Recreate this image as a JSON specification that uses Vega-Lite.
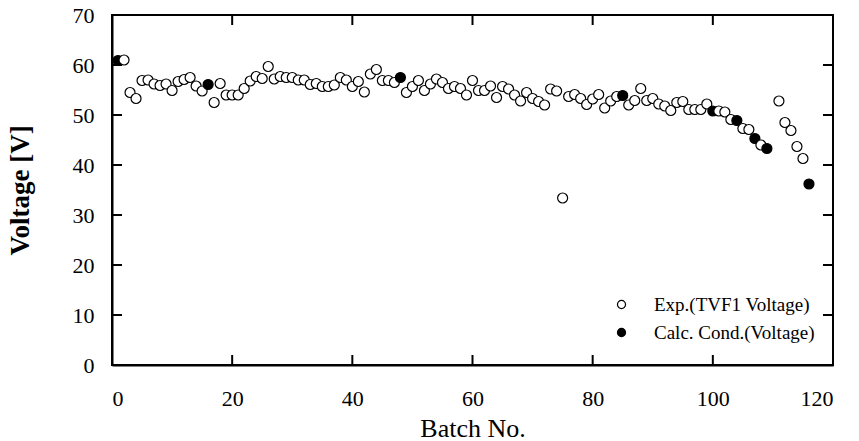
{
  "$schema": "https://vega.github.io/schema/vega-lite/v6.json",
  "autosize": "none",
  "width": 721,
  "height": 350,
  "padding": {"left": 112, "top": 15, "right": 26, "bottom": 76},
  "background": "white",
  "config": {
    "view": {"stroke": "black", "strokeWidth": 2},
    "font": "Liberation Serif",
    "axis": {"grid": false, "domainColor": "black", "domainWidth": 2, "labelColor": "black", "titleColor": "black", "labelFont": "Liberation Serif", "titleFont": "Liberation Serif"}
  },
  "datasets": {
    "xticks": [{"v": 20}, {"v": 40}, {"v": 60}, {"v": 80}, {"v": 100}],
    "yticks": [{"v": 10}, {"v": 20}, {"v": 30}, {"v": 40}, {"v": 50}, {"v": 60}]
  },
  "data": {"values": [
    {"batch": 1, "voltage": 60.9, "series": "Calc. Cond.(Voltage)"},
    {"batch": 2, "voltage": 61.0, "series": "Exp.(TVF1 Voltage)"},
    {"batch": 3, "voltage": 54.5, "series": "Exp.(TVF1 Voltage)"},
    {"batch": 4, "voltage": 53.3, "series": "Exp.(TVF1 Voltage)"},
    {"batch": 5, "voltage": 56.9, "series": "Exp.(TVF1 Voltage)"},
    {"batch": 6, "voltage": 57.0, "series": "Exp.(TVF1 Voltage)"},
    {"batch": 7, "voltage": 56.2, "series": "Exp.(TVF1 Voltage)"},
    {"batch": 8, "voltage": 55.9, "series": "Exp.(TVF1 Voltage)"},
    {"batch": 9, "voltage": 56.2, "series": "Exp.(TVF1 Voltage)"},
    {"batch": 10, "voltage": 54.9, "series": "Exp.(TVF1 Voltage)"},
    {"batch": 11, "voltage": 56.7, "series": "Exp.(TVF1 Voltage)"},
    {"batch": 12, "voltage": 57.1, "series": "Exp.(TVF1 Voltage)"},
    {"batch": 13, "voltage": 57.5, "series": "Exp.(TVF1 Voltage)"},
    {"batch": 14, "voltage": 55.8, "series": "Exp.(TVF1 Voltage)"},
    {"batch": 15, "voltage": 54.8, "series": "Exp.(TVF1 Voltage)"},
    {"batch": 16, "voltage": 56.1, "series": "Calc. Cond.(Voltage)"},
    {"batch": 17, "voltage": 52.5, "series": "Exp.(TVF1 Voltage)"},
    {"batch": 18, "voltage": 56.3, "series": "Exp.(TVF1 Voltage)"},
    {"batch": 19, "voltage": 54.0, "series": "Exp.(TVF1 Voltage)"},
    {"batch": 20, "voltage": 54.0, "series": "Exp.(TVF1 Voltage)"},
    {"batch": 21, "voltage": 54.0, "series": "Exp.(TVF1 Voltage)"},
    {"batch": 22, "voltage": 55.3, "series": "Exp.(TVF1 Voltage)"},
    {"batch": 23, "voltage": 56.8, "series": "Exp.(TVF1 Voltage)"},
    {"batch": 24, "voltage": 57.7, "series": "Exp.(TVF1 Voltage)"},
    {"batch": 25, "voltage": 57.3, "series": "Exp.(TVF1 Voltage)"},
    {"batch": 26, "voltage": 59.7, "series": "Exp.(TVF1 Voltage)"},
    {"batch": 27, "voltage": 57.2, "series": "Exp.(TVF1 Voltage)"},
    {"batch": 28, "voltage": 57.7, "series": "Exp.(TVF1 Voltage)"},
    {"batch": 29, "voltage": 57.5, "series": "Exp.(TVF1 Voltage)"},
    {"batch": 30, "voltage": 57.5, "series": "Exp.(TVF1 Voltage)"},
    {"batch": 31, "voltage": 57.0, "series": "Exp.(TVF1 Voltage)"},
    {"batch": 32, "voltage": 57.0, "series": "Exp.(TVF1 Voltage)"},
    {"batch": 33, "voltage": 56.1, "series": "Exp.(TVF1 Voltage)"},
    {"batch": 34, "voltage": 56.3, "series": "Exp.(TVF1 Voltage)"},
    {"batch": 35, "voltage": 55.7, "series": "Exp.(TVF1 Voltage)"},
    {"batch": 36, "voltage": 55.7, "series": "Exp.(TVF1 Voltage)"},
    {"batch": 37, "voltage": 56.0, "series": "Exp.(TVF1 Voltage)"},
    {"batch": 38, "voltage": 57.5, "series": "Exp.(TVF1 Voltage)"},
    {"batch": 39, "voltage": 57.0, "series": "Exp.(TVF1 Voltage)"},
    {"batch": 40, "voltage": 55.7, "series": "Exp.(TVF1 Voltage)"},
    {"batch": 41, "voltage": 56.7, "series": "Exp.(TVF1 Voltage)"},
    {"batch": 42, "voltage": 54.6, "series": "Exp.(TVF1 Voltage)"},
    {"batch": 43, "voltage": 58.2, "series": "Exp.(TVF1 Voltage)"},
    {"batch": 44, "voltage": 59.1, "series": "Exp.(TVF1 Voltage)"},
    {"batch": 45, "voltage": 56.9, "series": "Exp.(TVF1 Voltage)"},
    {"batch": 46, "voltage": 56.9, "series": "Exp.(TVF1 Voltage)"},
    {"batch": 47, "voltage": 56.5, "series": "Exp.(TVF1 Voltage)"},
    {"batch": 48, "voltage": 57.5, "series": "Calc. Cond.(Voltage)"},
    {"batch": 49, "voltage": 54.5, "series": "Exp.(TVF1 Voltage)"},
    {"batch": 50, "voltage": 55.7, "series": "Exp.(TVF1 Voltage)"},
    {"batch": 51, "voltage": 56.9, "series": "Exp.(TVF1 Voltage)"},
    {"batch": 52, "voltage": 54.9, "series": "Exp.(TVF1 Voltage)"},
    {"batch": 53, "voltage": 56.2, "series": "Exp.(TVF1 Voltage)"},
    {"batch": 54, "voltage": 57.2, "series": "Exp.(TVF1 Voltage)"},
    {"batch": 55, "voltage": 56.5, "series": "Exp.(TVF1 Voltage)"},
    {"batch": 56, "voltage": 55.3, "series": "Exp.(TVF1 Voltage)"},
    {"batch": 57, "voltage": 55.7, "series": "Exp.(TVF1 Voltage)"},
    {"batch": 58, "voltage": 55.3, "series": "Exp.(TVF1 Voltage)"},
    {"batch": 59, "voltage": 54.0, "series": "Exp.(TVF1 Voltage)"},
    {"batch": 60, "voltage": 56.9, "series": "Exp.(TVF1 Voltage)"},
    {"batch": 61, "voltage": 54.9, "series": "Exp.(TVF1 Voltage)"},
    {"batch": 62, "voltage": 54.9, "series": "Exp.(TVF1 Voltage)"},
    {"batch": 63, "voltage": 55.8, "series": "Exp.(TVF1 Voltage)"},
    {"batch": 64, "voltage": 53.5, "series": "Exp.(TVF1 Voltage)"},
    {"batch": 65, "voltage": 55.7, "series": "Exp.(TVF1 Voltage)"},
    {"batch": 66, "voltage": 55.2, "series": "Exp.(TVF1 Voltage)"},
    {"batch": 67, "voltage": 54.0, "series": "Exp.(TVF1 Voltage)"},
    {"batch": 68, "voltage": 52.8, "series": "Exp.(TVF1 Voltage)"},
    {"batch": 69, "voltage": 54.5, "series": "Exp.(TVF1 Voltage)"},
    {"batch": 70, "voltage": 53.3, "series": "Exp.(TVF1 Voltage)"},
    {"batch": 71, "voltage": 52.7, "series": "Exp.(TVF1 Voltage)"},
    {"batch": 72, "voltage": 52.0, "series": "Exp.(TVF1 Voltage)"},
    {"batch": 73, "voltage": 55.2, "series": "Exp.(TVF1 Voltage)"},
    {"batch": 74, "voltage": 54.8, "series": "Exp.(TVF1 Voltage)"},
    {"batch": 75, "voltage": 33.4, "series": "Exp.(TVF1 Voltage)"},
    {"batch": 76, "voltage": 53.7, "series": "Exp.(TVF1 Voltage)"},
    {"batch": 77, "voltage": 54.1, "series": "Exp.(TVF1 Voltage)"},
    {"batch": 78, "voltage": 53.3, "series": "Exp.(TVF1 Voltage)"},
    {"batch": 79, "voltage": 52.1, "series": "Exp.(TVF1 Voltage)"},
    {"batch": 80, "voltage": 53.2, "series": "Exp.(TVF1 Voltage)"},
    {"batch": 81, "voltage": 54.1, "series": "Exp.(TVF1 Voltage)"},
    {"batch": 82, "voltage": 51.4, "series": "Exp.(TVF1 Voltage)"},
    {"batch": 83, "voltage": 52.8, "series": "Exp.(TVF1 Voltage)"},
    {"batch": 84, "voltage": 53.7, "series": "Exp.(TVF1 Voltage)"},
    {"batch": 85, "voltage": 53.9, "series": "Calc. Cond.(Voltage)"},
    {"batch": 86, "voltage": 52.0, "series": "Exp.(TVF1 Voltage)"},
    {"batch": 87, "voltage": 52.9, "series": "Exp.(TVF1 Voltage)"},
    {"batch": 88, "voltage": 55.3, "series": "Exp.(TVF1 Voltage)"},
    {"batch": 89, "voltage": 52.9, "series": "Exp.(TVF1 Voltage)"},
    {"batch": 90, "voltage": 53.3, "series": "Exp.(TVF1 Voltage)"},
    {"batch": 91, "voltage": 52.2, "series": "Exp.(TVF1 Voltage)"},
    {"batch": 92, "voltage": 51.8, "series": "Exp.(TVF1 Voltage)"},
    {"batch": 93, "voltage": 50.9, "series": "Exp.(TVF1 Voltage)"},
    {"batch": 94, "voltage": 52.5, "series": "Exp.(TVF1 Voltage)"},
    {"batch": 95, "voltage": 52.7, "series": "Exp.(TVF1 Voltage)"},
    {"batch": 96, "voltage": 51.1, "series": "Exp.(TVF1 Voltage)"},
    {"batch": 97, "voltage": 51.1, "series": "Exp.(TVF1 Voltage)"},
    {"batch": 98, "voltage": 51.1, "series": "Exp.(TVF1 Voltage)"},
    {"batch": 99, "voltage": 52.2, "series": "Exp.(TVF1 Voltage)"},
    {"batch": 100, "voltage": 50.8, "series": "Calc. Cond.(Voltage)"},
    {"batch": 101, "voltage": 50.8, "series": "Exp.(TVF1 Voltage)"},
    {"batch": 102, "voltage": 50.6, "series": "Exp.(TVF1 Voltage)"},
    {"batch": 103, "voltage": 49.1, "series": "Exp.(TVF1 Voltage)"},
    {"batch": 104, "voltage": 48.9, "series": "Calc. Cond.(Voltage)"},
    {"batch": 105, "voltage": 47.3, "series": "Exp.(TVF1 Voltage)"},
    {"batch": 106, "voltage": 47.1, "series": "Exp.(TVF1 Voltage)"},
    {"batch": 107, "voltage": 45.3, "series": "Calc. Cond.(Voltage)"},
    {"batch": 108, "voltage": 44.0, "series": "Exp.(TVF1 Voltage)"},
    {"batch": 109, "voltage": 43.3, "series": "Calc. Cond.(Voltage)"},
    {"batch": 111, "voltage": 52.8, "series": "Exp.(TVF1 Voltage)"},
    {"batch": 112, "voltage": 48.5, "series": "Exp.(TVF1 Voltage)"},
    {"batch": 113, "voltage": 46.9, "series": "Exp.(TVF1 Voltage)"},
    {"batch": 114, "voltage": 43.7, "series": "Exp.(TVF1 Voltage)"},
    {"batch": 115, "voltage": 41.3, "series": "Exp.(TVF1 Voltage)"},
    {"batch": 116, "voltage": 36.2, "series": "Calc. Cond.(Voltage)"}
  ]},
  "layer": [
    {
      "data": {"name": "xticks"},
      "mark": {"type": "tick", "orient": "vertical", "size": 10, "thickness": 2, "color": "black", "opacity": 1, "yOffset": -5},
      "encoding": {
        "x": {"field": "v", "type": "quantitative", "scale": {"domain": [0, 120], "nice": false, "zero": false}, "axis": null},
        "y": {"datum": 0, "type": "quantitative", "scale": {"domain": [0, 70], "nice": false}, "axis": null}
      }
    },
    {
      "data": {"name": "xticks"},
      "mark": {"type": "tick", "orient": "vertical", "size": 10, "thickness": 2, "color": "black", "opacity": 1, "yOffset": 5},
      "encoding": {
        "x": {"field": "v", "type": "quantitative", "axis": null},
        "y": {"datum": 70, "type": "quantitative", "axis": null}
      }
    },
    {
      "data": {"name": "yticks"},
      "mark": {"type": "tick", "orient": "horizontal", "size": 10, "thickness": 2, "color": "black", "opacity": 1, "xOffset": 5},
      "encoding": {
        "y": {"field": "v", "type": "quantitative", "axis": null},
        "x": {"datum": 0, "type": "quantitative", "axis": null}
      }
    },
    {
      "data": {"name": "yticks"},
      "mark": {"type": "tick", "orient": "horizontal", "size": 10, "thickness": 2, "color": "black", "opacity": 1, "xOffset": -5},
      "encoding": {
        "y": {"field": "v", "type": "quantitative", "axis": null},
        "x": {"datum": 120, "type": "quantitative", "axis": null}
      }
    },
    {
      "mark": {"type": "point", "shape": "circle", "size": 100, "stroke": "black", "strokeWidth": 1.2, "opacity": 1},
      "encoding": {
        "x": {"field": "batch", "type": "quantitative", "scale": {"domain": [0, 120], "nice": false, "zero": false},
          "axis": {"orient": "bottom", "values": [0, 20, 40, 60, 80, 100, 120], "title": "Batch No.", "ticks": false, "labelPadding": 23, "labelFontSize": 22, "titleFontSize": 26, "titleFontWeight": "normal", "titleY": 71, "titleBaseline": "alphabetic"}},
        "y": {"field": "voltage", "type": "quantitative", "scale": {"domain": [0, 70], "nice": false},
          "axis": {"orient": "left", "values": [0, 10, 20, 30, 40, 50, 60, 70], "title": "Voltage [V]", "ticks": false, "labelPadding": 18, "labelFontSize": 22, "titleFontSize": 27, "titleFontWeight": "bold", "titleX": -92, "titleY": 175, "titleAngle": -90, "titleAlign": "center", "titleBaseline": "middle"}},
        "fill": {"field": "series", "type": "nominal",
          "scale": {"domain": ["Exp.(TVF1 Voltage)", "Calc. Cond.(Voltage)"], "range": ["white", "black"]},
          "legend": {"title": null, "orient": "none", "legendX": 500, "legendY": 280, "labelFont": "Liberation Serif", "labelFontSize": 19, "labelColor": "black", "labelLimit": 300, "symbolType": "circle", "symbolSize": 65, "symbolStrokeColor": "black", "symbolStrokeWidth": 1.2, "rowPadding": 8, "labelOffset": 23, "padding": 0}}
      }
    }
  ],
  "resolve": {"axis": {"x": "independent", "y": "independent"}}
}
